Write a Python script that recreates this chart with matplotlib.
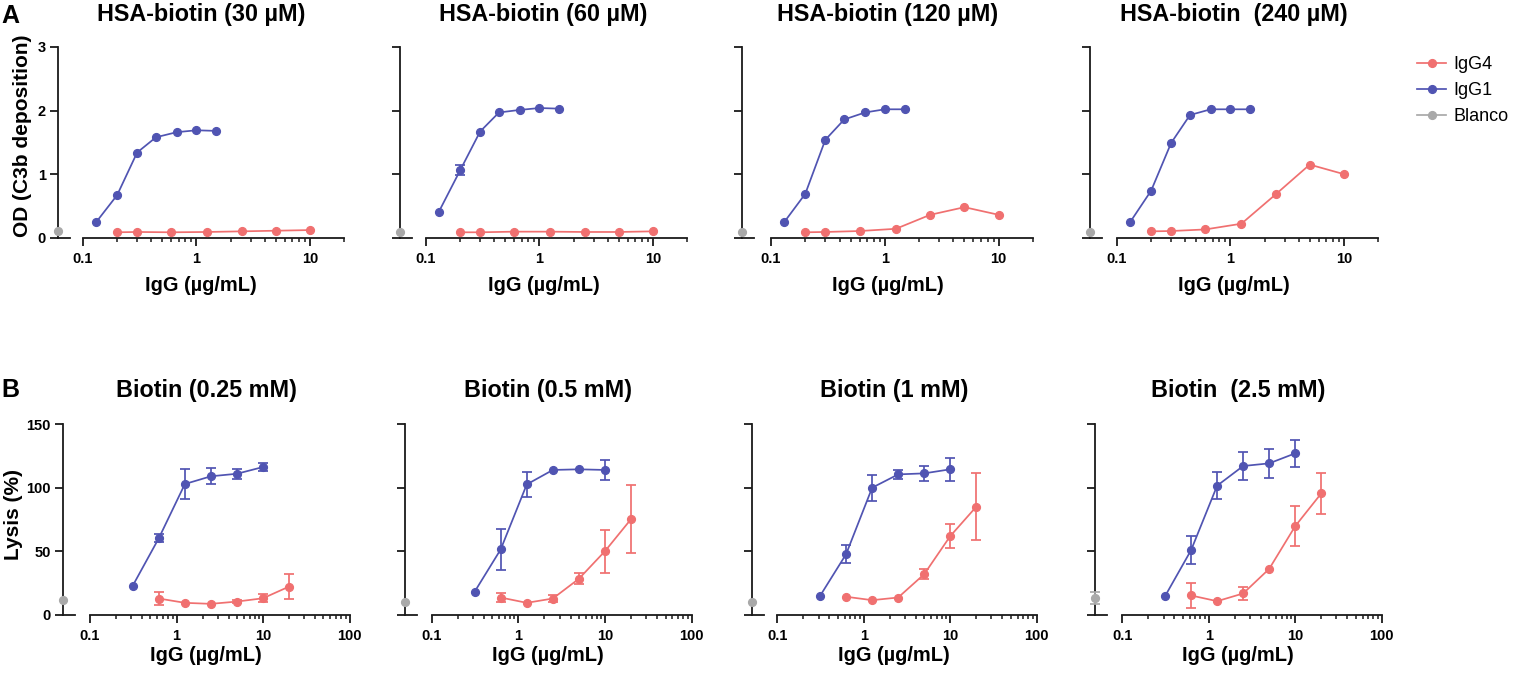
import matplotlib
matplotlib.use('Agg')
import matplotlib.pyplot as plt
import numpy as np
from matplotlib.ticker import FixedLocator, FixedFormatter, LogLocator, NullFormatter
from matplotlib.lines import Line2D

plt.rcParams['font.family'] = ['Liberation Sans', 'DejaVu Sans']
plt.rcParams['font.weight'] = 'bold'

# ---------------- data ----------------
top_titles = ['HSA-biotin (30 µM)', 'HSA-biotin (60 µM)', 'HSA-biotin (120 µM)', 'HSA-biotin  (240 µM)']
bot_titles = ['Biotin (0.25 mM)', 'Biotin (0.5 mM)', 'Biotin (1 mM)', 'Biotin  (2.5 mM)']

top_igg1_x = [0.13, 0.2, 0.3, 0.44, 0.67, 1.0, 1.5]
top_igg4_x = [0.2, 0.3, 0.6, 1.25, 2.5, 5, 10]
top_igg1_y = [
    [0.24, 0.67, 1.34, 1.58, 1.66, 1.69, 1.68],
    [0.41, 1.06, 1.67, 1.97, 2.01, 2.04, 2.03],
    [0.24, 0.69, 1.54, 1.86, 1.97, 2.02, 2.02],
    [0.24, 0.74, 1.49, 1.93, 2.02, 2.02, 2.02],
]
top_igg1_err = [
    [0, 0, 0, 0, 0, 0, 0],
    [0, 0.08, 0, 0, 0, 0, 0],
    [0, 0, 0, 0, 0, 0, 0],
    [0, 0, 0, 0, 0, 0, 0],
]
top_igg4_y = [
    [0.085, 0.09, 0.085, 0.09, 0.10, 0.11, 0.12],
    [0.085, 0.085, 0.095, 0.095, 0.09, 0.09, 0.10],
    [0.085, 0.09, 0.105, 0.14, 0.36, 0.48, 0.36],
    [0.10, 0.105, 0.13, 0.22, 0.68, 1.15, 1.00],
]
top_igg4_err = [[0] * 7 for _ in range(4)]
top_blanco_y = [0.10, 0.09, 0.09, 0.09]
top_blanco_err = [0, 0, 0, 0]

bot_igg1_x = [0.3125, 0.625, 1.25, 2.5, 5, 10]
bot_igg4_x = [0.625, 1.25, 2.5, 5, 10, 20]
bot_igg1_y = [
    [22.8, 60.2, 102.9, 109.0, 111.0, 116.3],
    [17.9, 51.3, 102.6, 114.0, 114.5, 114.0],
    [14.7, 47.6, 100.0, 110.5, 111.3, 114.5],
    [14.5, 50.8, 101.6, 117.1, 119.2, 127.1],
]
bot_igg1_err = [
    [0, 3.4, 12.0, 6.3, 3.9, 3.1],
    [0, 16.2, 10.0, 0, 0, 8.0],
    [0, 7.2, 10.3, 3.3, 5.9, 9.0],
    [0, 11.0, 10.8, 11.2, 11.2, 10.5],
]
bot_igg4_y = [
    [12.6, 9.2, 8.4, 10.2, 12.8, 22.0],
    [13.4, 9.2, 12.6, 28.2, 50.0, 75.3],
    [14.0, 11.3, 13.4, 31.8, 61.8, 85.0],
    [15.0, 10.5, 16.6, 36.0, 69.7, 95.5],
]
bot_igg4_err = [
    [5.0, 0, 0, 1.5, 3.0, 9.6],
    [3.4, 0, 3.0, 4.2, 17.0, 26.7],
    [0, 0, 0, 4.0, 9.5, 26.3],
    [9.5, 0, 4.9, 0, 15.8, 16.4],
]
bot_blanco_y = [11.8, 10.0, 9.5, 13.2]
bot_blanco_err = [0, 0, 0, 4.6]

# ---------------- styling / layout ----------------
W, H = 1513, 675
RED = '#F07070'
BLUE = '#5054B2'
GRAY = '#A9A9A9'
DARK = '#1a1a1a'
LW = 1.25
MS = 5.6

fig = plt.figure(figsize=(W / 100, H / 100), dpi=100)


def rect(x0, x1, ytop, ybot):
    return [x0 / W, 1 - ybot / H, (x1 - x0) / W, (ybot - ytop) / H]


top_spine = [57.7, 400, 742, 1090]
top_log = [(83, 344), (426, 687), (771, 1033), (1117, 1378)]
bot_spine = [62.7, 405, 751.7, 1095]
bot_log = [(90, 349.5), (431.7, 691.7), (777.3, 1036.7), (1122.3, 1381.7)]

BW = 12  # blanco segment width px


def style_spines(ax, left):
    for s in ['top', 'right']:
        ax.spines[s].set_visible(False)
    ax.spines['left'].set_visible(left)
    for s in ['left', 'bottom']:
        ax.spines[s].set_linewidth(1.3)
        ax.spines[s].set_color(DARK)


def series(ax, xs, ys, es, col, z):
    ax.plot(xs, ys, color=col, marker='o', ms=MS, lw=LW, zorder=z, clip_on=False)
    xs = np.asarray(xs, float)
    ys = np.asarray(ys, float)
    es = np.asarray(es, float)
    m = es > 0
    if m.any():
        cont = ax.errorbar(xs[m], ys[m], yerr=es[m], fmt='none', ecolor=col,
                           elinewidth=LW, capsize=3.5, capthick=LW, zorder=z)
        for ch in cont.get_children():
            ch.set_clip_on(False)


def panel(spine, logx, ytop, ybot, ylim, yticks, show_ylabels, xmax, xticks, xticklabels,
          x1, y1, e1, x4, y4, e4, by, be, title, title_base):
    axb = fig.add_axes(rect(spine, spine + BW, ytop, ybot))
    axl = fig.add_axes(rect(logx[0], logx[1], ytop, ybot))
    for ax in (axb, axl):
        ax.set_ylim(*ylim)
        ax.patch.set_alpha(0)
    style_spines(axb, True)
    style_spines(axl, False)
    axb.set_xlim(0, 1)
    axb.set_xticks([])
    axb.set_yticks(yticks)
    if show_ylabels:
        axb.set_yticklabels([str(t) for t in yticks])
    else:
        axb.set_yticklabels([])
    axb.tick_params(axis='y', direction='out', length=5.5, width=1.3, pad=3,
                    labelsize=10.5, color=DARK)
    axl.set_yticks([])
    axl.set_xscale('log')
    axl.set_xlim(0.1, xmax)
    axl.xaxis.set_major_locator(FixedLocator(xticks))
    axl.xaxis.set_major_formatter(FixedFormatter(xticklabels))
    axl.xaxis.set_minor_locator(LogLocator(base=10, subs=range(2, 10), numticks=20))
    axl.xaxis.set_minor_formatter(NullFormatter())
    axl.tick_params(axis='x', which='major', direction='out', length=5.5, width=1.3,
                    pad=5, labelsize=10.5, color=DARK)
    axl.tick_params(axis='x', which='minor', direction='out', length=3, width=1.1,
                    color=DARK)
    series(axl, x4, y4, e4, RED, 4)
    series(axl, x1, y1, e1, BLUE, 4)
    series(axb, [0], [by], [be], GRAY, 5)
    cx = (spine + logx[1]) / 2
    fig.text(cx / W, 1 - title_base / H, title, ha='center', va='baseline',
             fontsize=16.8, fontweight='bold')
    return cx


for i in range(4):
    cx = panel(top_spine[i], top_log[i], 47, 237.7, (0, 3), [0, 1, 2, 3], i == 0,
               20, [0.1, 1, 10], ['0.1', '1', '10'],
               top_igg1_x, top_igg1_y[i], top_igg1_err[i],
               top_igg4_x, top_igg4_y[i], top_igg4_err[i],
               top_blanco_y[i], top_blanco_err[i], top_titles[i], 20.7)
    fig.text(cx / W, 1 - 290.7 / H, 'IgG (µg/mL)', ha='center', va='baseline',
             fontsize=14.4, fontweight='bold')

for i in range(4):
    cx = panel(bot_spine[i], bot_log[i], 424.3, 614.5, (0, 150), [0, 50, 100, 150], i == 0,
               100, [0.1, 1, 10, 100], ['0.1', '1', '10', '100'],
               bot_igg1_x, bot_igg1_y[i], bot_igg1_err[i],
               bot_igg4_x, bot_igg4_y[i], bot_igg4_err[i],
               bot_blanco_y[i], bot_blanco_err[i], bot_titles[i], 397.3)
    fig.text(cx / W, 1 - 661 / H, 'IgG (µg/mL)', ha='center', va='baseline',
             fontsize=14.4, fontweight='bold')

# y labels
fig.text(23 / W, 1 - 135.5 / H, 'OD (C3b deposition)', rotation=90, ha='center',
         va='center', fontsize=15, fontweight='bold')
fig.text(13.5 / W, 1 - 514 / H, 'Lysis (%)', rotation=90, ha='center',
         va='center', fontsize=15, fontweight='bold')

# panel letters
fig.text(1.5 / W, 1 - 22.7 / H, 'A', ha='left', va='baseline', fontsize=18, fontweight='bold')
fig.text(1.5 / W, 1 - 396.7 / H, 'B', ha='left', va='baseline', fontsize=18, fontweight='bold')

# legend
handles = [Line2D([], [], color=RED, marker='o', ms=MS, lw=LW),
           Line2D([], [], color=BLUE, marker='o', ms=MS, lw=LW),
           Line2D([], [], color=GRAY, marker='o', ms=MS, lw=LW)]
fig.legend(handles, ['IgG4', 'IgG1', 'Blanco'], loc='upper left',
           bbox_to_anchor=(1410 / W, 1 - 49 / H), frameon=False,
           prop={'size': 13, 'weight': 'normal'}, handlelength=1.6,
           handletextpad=0.4, labelspacing=0.5, borderaxespad=0)

fig.savefig('out.png', dpi=100)
